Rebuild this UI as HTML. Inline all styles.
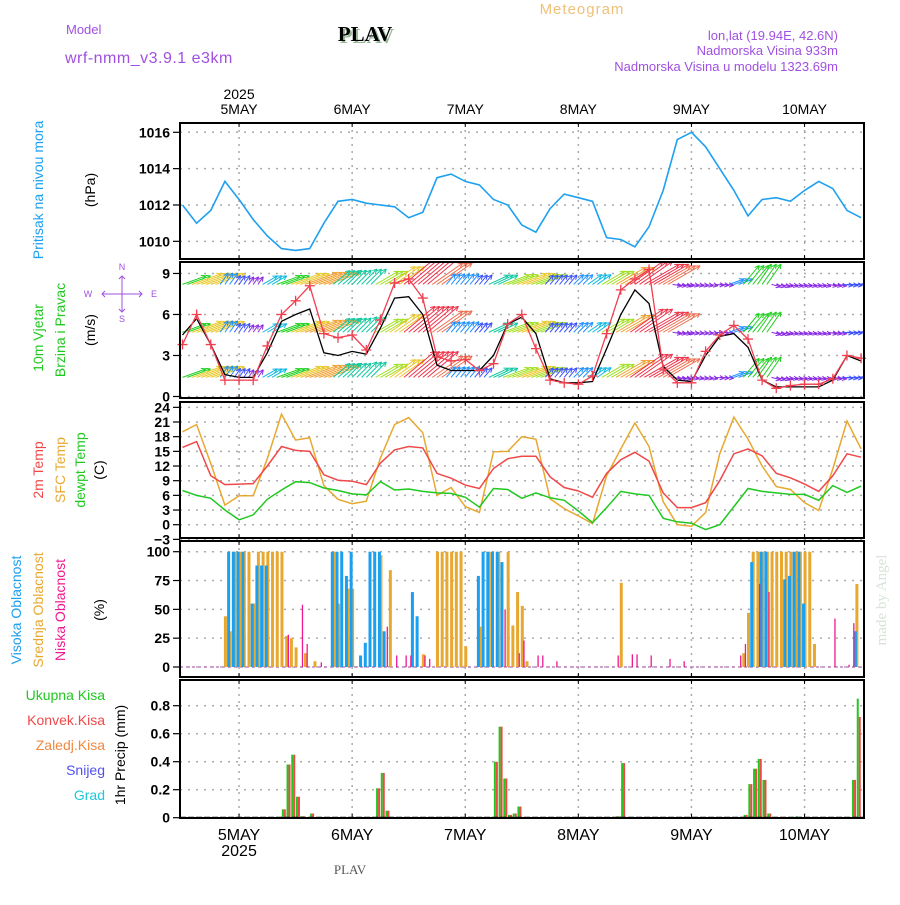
<!DOCTYPE html>
<html><head><meta charset="utf-8"><style>
body{margin:0;background:#fff;}
svg text{font-family:"Liberation Sans",sans-serif;}
</style></head><body>
<svg id="c" width="900" height="900" xmlns="http://www.w3.org/2000/svg">
<rect x="0" y="0" width="900" height="900" fill="#fff"/>
<text x="582" y="14" fill="#f0c078" font-size="15" text-anchor="middle" letter-spacing="1">Meteogram</text>
<text x="66" y="34" fill="#a050e0" font-size="13">Model</text>
<text x="65" y="63" fill="#a050e0" font-size="16" letter-spacing="0.5">wrf-nmm_v3.9.1 e3km</text>
<text x="367" y="43" fill="#9ab89a" font-size="21" font-weight="bold" text-anchor="middle" font-family="Liberation Serif, serif" style="font-family:'Liberation Serif',serif">PLAV</text>
<text x="365" y="41" fill="#000" font-size="21" font-weight="bold" text-anchor="middle" style="font-family:'Liberation Serif',serif">PLAV</text>
<text x="838" y="40" fill="#a050e0" font-size="13" text-anchor="end">lon,lat (19.94E, 42.6N)</text>
<text x="838" y="55" fill="#a050e0" font-size="13" text-anchor="end">Nadmorska Visina 933m</text>
<text x="838" y="71" fill="#a050e0" font-size="13" text-anchor="end">Nadmorska Visina u modelu 1323.69m</text>
<text x="350" y="874" fill="#555" font-size="13" text-anchor="middle" style="font-family:'Liberation Serif',serif">PLAV</text>
<text transform="translate(886,600) rotate(-90)" fill="#d8e4d8" font-size="15" text-anchor="middle" style="font-family:'Liberation Serif',serif">made by Angel</text>
<g id="g"></g>
</svg>
<script>
// ---- data (3-hourly, hour 0 .. 144) ----
const hours3 = [];
for (let i = 0; i <= 48; i++) hours3.push(i * 3);
const dayLabels = ['5MAY','6MAY','7MAY','8MAY','9MAY','10MAY'];
const dayHours = [12, 36, 60, 84, 108, 132];
const pressure = [1012.0,1011.0,1011.7,1013.3,1012.3,1011.2,1010.3,1009.6,1009.5,1009.6,1011.0,1012.2,1012.3,1012.1,1012.0,1011.9,1011.3,1011.6,1013.5,1013.7,1013.3,1013.1,1012.3,1012.0,1010.9,1010.5,1011.8,1012.6,1012.4,1012.2,1010.2,1010.1,1009.7,1010.8,1012.8,1015.6,1016.0,1015.2,1014.0,1012.8,1011.4,1012.3,1012.4,1012.2,1012.8,1013.3,1012.9,1011.7,1011.3];
const windRed = [3.8,6.0,3.8,1.2,1.2,1.2,3.7,6.0,7.0,8.1,4.6,4.3,4.5,3.4,5.6,8.3,8.6,7.2,2.9,2.6,2.7,1.9,2.4,5.3,6.0,3.5,1.2,1.0,0.9,1.5,4.6,7.8,8.6,9.3,2.0,1.0,1.0,3.3,4.5,5.2,4.2,1.2,0.6,0.8,0.9,0.9,1.3,3.0,2.8];
const windBlack = [4.5,5.7,3.8,1.6,1.4,1.4,3.2,5.5,6.0,6.4,3.2,3.0,3.3,3.1,5.0,7.2,7.3,6.0,2.3,1.9,1.9,1.9,3.0,5.3,5.8,4.6,1.3,1.0,1.0,1.1,3.5,6.0,7.8,6.8,2.2,1.2,1.1,3.0,4.4,4.6,3.6,1.2,0.7,0.7,0.7,0.7,1.2,3.0,2.6];
const arrowSpeed = [8,10,10,4.5,3.5,3,5.5,8,10,11,11,7,6.5,7,8.5,10,13,13,12,4.5,4.5,4,7,9,10,9,4,4,4.5,5.5,8.5,11,13,13,12,3,2.5,2.5,3,5,8,8,3,2.5,2.5,2.5,3,3.5,4];
const arrowDir = [250,250,250,215,215,215,240,250,250,250,250,230,225,225,240,235,230,230,235,220,220,220,245,250,250,250,220,220,225,235,240,240,235,240,240,280,280,280,275,250,220,215,285,285,285,285,280,275,265];
const temp2m = [15.8,17.0,10.0,8.2,8.3,8.4,12.0,16.0,15.2,15.0,10.2,9.1,8.9,8.2,12.6,15.3,16.0,15.7,10.5,9.5,8.1,7.4,11.5,13.5,14.0,14.0,9.8,7.6,6.9,5.6,10.5,13.3,14.8,13.0,6.5,3.5,3.5,4.5,9.0,14.5,15.5,14.1,10.5,9.6,8.3,6.8,10.0,14.5,13.8];
const tempSfc = [19.0,20.5,12.5,4.0,5.9,5.9,13.5,22.6,17.3,17.8,8.0,5.2,4.3,4.8,13.6,20.5,21.9,18.8,6.0,7.6,3.7,2.5,14.9,15.0,18.0,17.5,5.3,3.3,1.8,0.2,10.0,15.5,20.8,16.0,4.7,0.0,-0.3,2.5,14.5,22.0,17.5,12.0,7.8,7.2,4.5,2.9,11.4,21.2,15.5];
const dewpt = [7.0,6.0,5.4,3.0,1.0,2.0,5.2,7.1,8.8,8.6,7.5,7.0,6.3,6.1,8.8,7.1,7.3,6.8,6.5,6.4,5.6,3.6,7.4,7.2,5.4,6.5,5.5,5.0,2.8,0.4,3.5,6.8,6.3,6.0,1.3,0.6,0.3,-1.0,0.0,3.7,7.4,6.8,6.5,6.2,6.2,5.0,8.0,6.6,7.9];
// cloud cover [hour, %]
const cloudHigh = [[10,100],[11,100],[12,100],[13,100],[15,55],[16,88],[17,88],[18,88],[32,100],[33,100],[34,100],[35,79],[36,100],[38,10],[39,21],[40,100],[41,100],[42,100],[43,31],[49,65],[50,44],[63,79],[64,100],[65,100],[66,100],[67,100],[68,91],[121,91],[123,100],[124,100],[128,76],[129,79],[130,100],[131,100],[132,55],[143,31]];
const cloudMid = [[9,44],[10,31],[11,100],[12,100],[13,100],[14,100],[15,55],[16,100],[17,100],[18,100],[19,100],[20,100],[21,100],[22,27],[23,25],[24,17],[26,12],[28,5],[32,100],[33,55],[35,68],[36,68],[42,97],[44,84],[51,11],[54,100],[55,100],[56,100],[57,100],[58,100],[59,100],[60,18],[63,35],[65,100],[67,100],[69,100],[70,36],[71,65],[72,53],[73,5],[93,73],[119,12],[120,47],[121,100],[122,100],[123,100],[124,100],[125,100],[126,100],[127,100],[128,100],[129,100],[130,100],[131,100],[132,100],[133,100],[134,20],[143,72]];
const cloudLow = [[22,28],[25,54],[26,20],[29,4],[43,35],[45,10],[47,10],[48,10],[51,10],[52,7],[68,50],[71,12],[72,23],[75,10],[76,10],[79,5],[92,10],[95,11],[96,11],[99,10],[103,7],[106,5],[118,10],[119,20],[122,72],[124,65],[138,42],[141,2],[142,38]];
const precipHours = [21,22,23,24,25,27,41,42,43,66,67,68,69,70,71,92,93,119,120,121,122,123,124,130,142,143];
const precipTotal = [0.06,0.38,0.45,0.15,0.01,0.03,0.21,0.32,0.05,0.40,0.65,0.28,0.02,0.03,0.08,0.01,0.39,0.02,0.24,0.35,0.42,0.27,0.03,0.01,0.27,0.85];
const precipConv = [0.06,0.38,0.45,0.15,0.01,0.03,0.21,0.32,0.05,0.40,0.65,0.28,0.02,0.03,0.08,0.01,0.39,0.02,0.24,0.35,0.42,0.27,0.03,0.00,0.27,0.72];
const pTicks = [1010,1012,1014,1016];
const wTicks = [0,3,6,9];
const tTicks = [-3,0,3,6,9,12,15,18,21,24];
const cTicks = [0,25,50,75,100];
const rTicks = [0,0.2,0.4,0.6,0.8];

// ---- scales ----
const X0 = 180, X1 = 864;
const x = h => 182.5 + h * 4.7125;
const yP = v => 132.3 + (1016 - v) * 18.17;
const yW = v => 396.5 - v * 13.67;
const yT = v => 524.7 - v * 4.89;
const yC = v => 667 - v * 1.153;
const yR = v => 817.7 - v * 140;
const panels = [[123,259],[262,398],[402,538],[541,677],[680,818]];

const NS = 'http://www.w3.org/2000/svg';
const G = document.getElementById('g');
function el(tag, attrs, parent) {
  const e = document.createElementNS(NS, tag);
  for (const k in attrs) e.setAttribute(k, attrs[k]);
  (parent || G).appendChild(e);
  return e;
}
function txt(s, attrs, parent) { const t = el('text', attrs, parent); t.textContent = s; return t; }

// gridlines & axes
const grid = el('g', {});


panels.forEach(([t, b]) => {
  dayHours.forEach(h => {
    el('line', {x1: x(h), x2: x(h), y1: t, y2: b, stroke: '#aaa', 'stroke-dasharray': '2,5', 'stroke-width': 1.5}, grid);
    el('line', {x1: x(h), x2: x(h), y1: t, y2: t + 4, stroke: '#000', 'stroke-width': 1}, grid);
    el('line', {x1: x(h), x2: x(h), y1: b - 4, y2: b, stroke: '#000', 'stroke-width': 1}, grid);
  });
});
function yaxis(ticks, f, fmt, name) {
  const ax = el('g', {});
  
  
  ticks.forEach(v => {
    const y = f(v);
    el('line', {x1: X0, x2: X1, y1: y, y2: y, stroke: '#aaa', 'stroke-dasharray': '2,6', 'stroke-width': 1.5}, ax);
    el('line', {x1: X0 - 7, x2: X0, y1: y, y2: y, stroke: '#000', 'stroke-width': 1.2}, ax);
    txt(fmt(v), {x: X0 - 10, y: y + 5, 'font-size': 14, 'text-anchor': 'end', fill: '#000', 'font-weight': 'bold'}, ax);
  });
}
yaxis(pTicks, yP, v => String(v), 'pressure-y-axis');
yaxis(wTicks, yW, v => String(v), 'wind-y-axis');
yaxis(tTicks, yT, v => v < 0 ? '\u2212' + (-v) : String(v), 'temp-y-axis');
yaxis(cTicks, yC, v => String(v), 'cloud-y-axis');
yaxis(rTicks, yR, v => v === 0 ? '0' : v.toFixed(1), 'precip-y-axis');

function polyline(vals, f, color, name, w) {
  const pts = vals.map((v, i) => x(hours3[i]).toFixed(1) + ',' + f(v).toFixed(1)).join(' ');
  const p = el('polyline', {points: pts, fill: 'none', stroke: color, 'stroke-width': w || 1.5});
  
  
  return p;
}
// clip for panels
const defs = el('defs', {});
panels.forEach(([t, b], i) => {
  const cp = el('clipPath', {id: 'cp' + i}, defs);
  el('rect', {x: X0, y: t, width: X1 - X0, height: b - t}, cp);
});

// pressure
polyline(pressure, yP, '#1ea0f0', 'pressure-line', 1.6);

// wind arrows
function spdColor(s) {
  if (s < 3.2) return '#8a2be2';
  if (s < 4.2) return '#3a50ff';
  if (s < 5.2) return '#1e90ff';
  if (s < 6.2) return '#10b8e0';
  if (s < 7.5) return '#10c8a0';
  if (s < 8.2) return '#20d020';
  if (s < 9.2) return '#a0e020';
  if (s < 10.5) return '#e8c828';
  if (s < 11.5) return '#f0a030';
  if (s < 12.5) return '#f07050';
  return '#f03048';
}
const wg = el('g', {'clip-path': 'url(#cp1)'});


[8.2, 4.7, 1.4].forEach(base => {
  arrowSpeed.forEach((s, i) => {
    for (let j = 0; j < 3; j++) {
      const h = hours3[i] + j - 1;
      if (h < 0 || h > 144) continue;
      const ang = (90 - (arrowDir[i] + 180)) * Math.PI / 180;
      const L = s * 3.1;
      const x1 = x(h), y1 = yW(base);
      const x2 = x1 + L * Math.cos(ang), y2 = y1 - L * Math.sin(ang);
      const c = spdColor(s);
      const a = el('g', {}, wg);
      
      
      el('line', {x1: x1, y1: y1, x2: x2, y2: y2, stroke: c, 'stroke-width': 1}, a);
      const hl = 5;
      [0.45, -0.45].forEach(d => {
        el('line', {x1: x2, y1: y2, x2: x2 - hl * Math.cos(ang + d), y2: y2 + hl * Math.sin(ang + d), stroke: c, 'stroke-width': 1}, a);
      });
    }
  });
});
// wind speed lines
polyline(windBlack, yW, '#000', 'wind-gust-line', 1.3);
polyline(windRed, yW, '#f04050', 'wind-speed-line', 1.3);
const mk = el('g', {});


windRed.forEach((v, i) => {
  const cx = x(hours3[i]), cy = yW(v);
  el('path', {d: `M${cx-5},${cy}h10M${cx},${cy-5}v10`, stroke: '#f04050', 'stroke-width': 1.3}, mk);
});

// temperatures
polyline(tempSfc, yT, '#e8a830', 'sfc-temp-line', 1.5);
polyline(temp2m, yT, '#f04848', 'temp-2m-line', 1.5);
polyline(dewpt, yT, '#20c820', 'dewpoint-line', 1.5);

// clouds
el('line', {x1: X0, x2: X1, y1: yC(0), y2: yC(0), stroke: '#c080c0', 'stroke-dasharray': '3,3', 'stroke-width': 1.5});
const cg = el('g', {});


cloudMid.forEach(([h, v]) => {
  const r = el('rect', {x: x(h) - 1, y: yC(v), width: 3, height: yC(0) - yC(v), fill: '#e8a830'}, cg);
  
  
});
cloudHigh.forEach(([h, v]) => {
  const r = el('rect', {x: x(h) - 2.5, y: yC(v), width: 3, height: yC(0) - yC(v), fill: '#1aa0f0'}, cg);
  
  
});
cloudLow.forEach(([h, v]) => {
  const r = el('rect', {x: x(h) + 1.5, y: yC(v), width: 1.3, height: yC(0) - yC(v), fill: '#f01890'}, cg);
  
  
});

// precip
const pg = el('g', {});


precipHours.forEach((h, i) => {
  const cx = x(h + 0.5);
  const g1 = el('rect', {x: cx - 2, y: yR(precipTotal[i]), width: 2, height: yR(0) - yR(precipTotal[i]), fill: '#20c820'}, pg);
  
  
  const r1 = el('rect', {x: cx, y: yR(precipConv[i]), width: 2, height: yR(0) - yR(precipConv[i]), fill: '#f04848'}, pg);
  
  
});
el('line', {x1: X0, x2: X1, y1: yR(0), y2: yR(0), stroke: '#000', 'stroke-dasharray': '6,2', 'stroke-width': 2});

// panel frames
panels.forEach(([t, b], i) => {
  const r = el('rect', {x: X0, y: t, width: X1 - X0, height: b - t, fill: 'none', stroke: '#000', 'stroke-width': 2});
  
  
});

// day labels
const tl = el('g', {});


dayLabels.forEach((d, i) => {
  txt(d, {x: x(dayHours[i]), y: 114, 'font-size': 14, 'text-anchor': 'middle', fill: '#000'}, tl);
  txt(d, {x: x(dayHours[i]), y: 840, 'font-size': 16, 'text-anchor': 'middle', fill: '#000'}, tl);
});
txt('2025', {x: x(dayHours[0]), y: 99, 'font-size': 14, 'text-anchor': 'middle', fill: '#000'}, tl);
txt('2025', {x: x(dayHours[0]), y: 856, 'font-size': 16, 'text-anchor': 'middle', fill: '#000'}, tl);

// left labels
function vlab(s, cx, cy, color, name, size) {
  const t = txt(s, {transform: `translate(${cx},${cy}) rotate(-90)`, 'font-size': size || 14, 'text-anchor': 'middle', fill: color});
  
  
}
vlab('Pritisak na nivou mora', 43, 190, '#1aa0f0', 'pressure-title');
vlab('(hPa)', 95, 190, '#000', 'pressure-unit');
vlab('10m Vjetar', 43, 338, '#20c820', 'wind-title');
vlab('Brzina i Pravac', 65, 330, '#20c820', 'wind-subtitle');
vlab('(m/s)', 95, 330, '#000', 'wind-unit');
vlab('2m Temp', 43, 470, '#f04848', 'temp-2m-title');
vlab('SFC Temp', 65, 470, '#e8a830', 'sfc-temp-title');
vlab('dewpt Temp', 85, 470, '#20c820', 'dewpt-title');
vlab('(C)', 104, 470, '#000', 'temp-unit');
vlab('Visoka Oblacnost', 21, 610, '#1aa0f0', 'high-cloud-title');
vlab('Srednja Oblacnost', 43, 610, '#e8a830', 'mid-cloud-title');
vlab('Niska Oblacnost', 65, 610, '#f01890', 'low-cloud-title');
vlab('(%)', 104, 610, '#000', 'cloud-unit');
vlab('1hr Precip (mm)', 125, 755, '#000', 'precip-unit');
const leg = [['Ukupna Kisa', '#20c820', 700], ['Konvek.Kisa', '#f04848', 725], ['Zaledj.Kisa', '#f08840', 750], ['Snijeg', '#5050f0', 775], ['Grad', '#20c8d8', 800]];
leg.forEach(([s, c, y]) => {
  const t = txt(s, {x: 105, y: y, 'font-size': 14, 'text-anchor': 'end', fill: c});
  
  
});
// compass
const cmp = el('g', {fill: '#a050e0', 'font-size': 9});


txt('N', {x: 122, y: 270, 'text-anchor': 'middle'}, cmp);
txt('S', {x: 122, y: 322, 'text-anchor': 'middle'}, cmp);
txt('W', {x: 88, y: 297, 'text-anchor': 'middle'}, cmp);
txt('E', {x: 154, y: 297, 'text-anchor': 'middle'}, cmp);
el('path', {d: 'M102,294h40M122,276v36M105,291l-3,3 3,3M139,291l3,3-3,3M119,279l3,-3 3,3M119,309l3,3 3,-3', stroke: '#a050e0', fill: 'none', 'stroke-width': 1}, cmp);
</script>
</body></html>
